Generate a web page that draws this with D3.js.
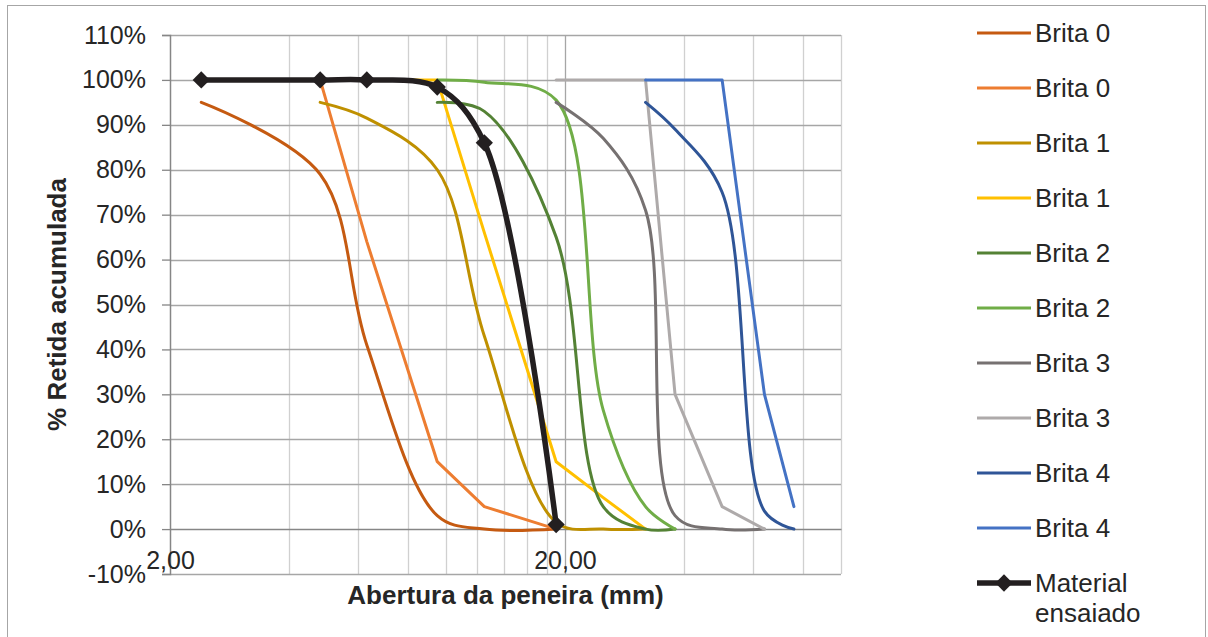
<!DOCTYPE html>
<html>
<head>
<meta charset="utf-8">
<script src="https://cdn.jsdelivr.net/npm/d3@7"></script>
<style>
  html, body { margin: 0; padding: 0; background: #ffffff; }
  svg { display: block; font-family: "Liberation Sans", Arial, sans-serif; }
</style>
</head>
<body>
<svg id="chart" width="1208" height="637"></svg>
<script>
// Sieve openings (mm)
const sieves = [2.4, 4.8, 6.3, 9.5, 12.5, 19, 25, 32, 38, 50, 64, 76];

// Cumulative retained (%) for each sieve; null = not tested
const brita0a  = [95, 79, 41, 3, 0, 0, null, null, null, null, null, null];
const brita0b  = [100, 100, 64, 15, 5, 0, null, null, null, null, null, null];
const brita1a  = [null, 95, 91.5, 80, 43, 1.5, 0, 0, null, null, null, null];
const brita1b  = [null, 100, 100, 100, 66, 15, 7, 0, null, null, null, null];
const brita2a  = [null, null, null, 95, 93, 65, 5, 0, 0, null, null, null];
const brita2b  = [null, null, null, 100, 99.5, 95.5, 26.5, 5, 0, null, null, null];
const brita3a  = [null, null, null, null, null, 95, 87, 71, 3, 0, 0, null];
const brita3b  = [null, null, null, null, null, 100, 100, 100, 30, 5, 0, null];
const brita4a  = [null, null, null, null, null, null, null, 95, 89, 75, 4, 0];
const brita4b  = [null, null, null, null, null, null, null, 100, 100, 100, 30, 5];
const material = [100, 100, 100, 98.4, 86, 1, null, null, null, null, null, null];

const seriesNames = ["Brita 0", "Brita 0", "Brita 1", "Brita 1", "Brita 2", "Brita 2",
                     "Brita 3", "Brita 3", "Brita 4", "Brita 4", "Material ensaiado"];

// Axis ticks
const yTicks = [-10, 0, 10, 20, 30, 40, 50, 60, 70, 80, 90, 100, 110];
const xMajorTicks = [2, 20];
const xMinorTicks = [4, 6, 8, 10, 12, 14, 16, 18, 40, 60, 80, 100];

const series = [
  { name: seriesNames[0], values: brita0a, color: "#c55a11", smooth: true },
  { name: seriesNames[1], values: brita0b, color: "#ed7d31", smooth: false },
  { name: seriesNames[2], values: brita1a, color: "#bf9000", smooth: true },
  { name: seriesNames[3], values: brita1b, color: "#ffc000", smooth: false },
  { name: seriesNames[4], values: brita2a, color: "#548235", smooth: true },
  { name: seriesNames[5], values: brita2b, color: "#70ad47", smooth: true },
  { name: seriesNames[6], values: brita3a, color: "#767171", smooth: true },
  { name: seriesNames[7], values: brita3b, color: "#aeaaaa", smooth: false },
  { name: seriesNames[8], values: brita4a, color: "#2f5597", smooth: true },
  { name: seriesNames[9], values: brita4b, color: "#4472c4", smooth: false },
  { name: seriesNames[10], values: material, color: "#231f20", smooth: true, marker: true }
];

const svg = d3.select("#chart");
const textColor = "#262626";

// Chart frame
svg.append("rect")
  .attr("x", 7.5).attr("y", 5.5).attr("width", 1198).attr("height", 640)
  .attr("fill", "#ffffff").attr("stroke", "#a6a6a6").attr("stroke-width", 1);

const plot = { left: 170, right: 841, top: 35, bottom: 574 };

const x = d3.scaleLog().domain([2, 100]).range([plot.left, plot.right]);
const y = d3.scaleLinear().domain([-10, 110]).range([plot.bottom, plot.top]);

// Vertical gridlines
const g = svg.append("g");
g.selectAll("line.vminor").data(xMinorTicks).join("line")
  .attr("x1", d => Math.round(x(d)) + 0.5).attr("x2", d => Math.round(x(d)) + 0.5)
  .attr("y1", plot.top).attr("y2", plot.bottom)
  .attr("stroke", "#d0d0d0").attr("stroke-width", 1.3);
g.selectAll("line.vmajor").data(xMajorTicks.slice(1)).join("line")
  .attr("x1", d => Math.round(x(d)) + 0.5).attr("x2", d => Math.round(x(d)) + 0.5)
  .attr("y1", plot.top).attr("y2", plot.bottom)
  .attr("stroke", "#a6a6a6").attr("stroke-width", 1.3);

// Horizontal gridlines
g.selectAll("line.h").data(yTicks.filter(d => d !== 0)).join("line")
  .attr("x1", plot.left).attr("x2", plot.right)
  .attr("y1", d => Math.round(y(d)) + 0.5).attr("y2", d => Math.round(y(d)) + 0.5)
  .attr("stroke", "#a6a6a6").attr("stroke-width", 1.3);

// Y axis
const yAxis = svg.append("g")
  .attr("transform", `translate(${plot.left},0)`)
  .call(d3.axisLeft(y).tickValues(yTicks).tickSize(8).tickPadding(16)
    .tickFormat(d => d + "%"));
yAxis.select(".domain").attr("stroke", "#868686").attr("stroke-width", 1.5);
yAxis.selectAll(".tick line").attr("stroke", "#868686").attr("stroke-width", 1.3);
yAxis.selectAll(".tick text")
  .attr("fill", textColor).attr("font-size", 25)
  .attr("font-family", "'Liberation Sans', Arial, sans-serif");

// X axis sitting on the 0% line
const xAxis = svg.append("g")
  .attr("transform", `translate(0,${y(0)})`)
  .call(d3.axisBottom(x).tickValues(xMajorTicks).tickSize(0).tickPadding(22)
    .tickFormat(d => d3.format(".2f")(d).replace(".", ",")));
xAxis.select(".domain").attr("stroke", "#868686").attr("stroke-width", 1.5);
xAxis.selectAll(".tick text")
  .attr("fill", textColor).attr("font-size", 25)
  .attr("font-family", "'Liberation Sans', Arial, sans-serif");

// Axis titles
svg.append("text")
  .attr("x", (plot.left + plot.right) / 2).attr("y", 604)
  .attr("text-anchor", "middle").attr("font-weight", "bold").attr("font-size", 26)
  .attr("fill", textColor)
  .text("Abertura da peneira (mm)");
svg.append("text")
  .attr("transform", `translate(66,${(plot.top + plot.bottom) / 2}) rotate(-90)`)
  .attr("text-anchor", "middle").attr("font-weight", "bold").attr("font-size", 26)
  .attr("fill", textColor)
  .text("% Retida acumulada");

// Series lines
svg.append("clipPath").attr("id", "plotClip")
  .append("rect").attr("x", plot.left).attr("y", plot.top)
  .attr("width", plot.right - plot.left).attr("height", plot.bottom - plot.top);

const lines = svg.append("g").attr("clip-path", "url(#plotClip)");

series.forEach(s => {
  const pts = sieves.map((v, i) => [v, s.values[i]]).filter(p => p[1] !== null);
  const line = d3.line()
    .x(p => x(p[0])).y(p => y(p[1]))
    .curve(s.smooth ? d3.curveCatmullRom.alpha(0.5) : d3.curveLinear);
  lines.append("path")
    .attr("d", line(pts))
    .attr("fill", "none")
    .attr("stroke", s.color)
    .attr("stroke-width", s.marker ? 5.5 : 3)
    .attr("stroke-linejoin", "round")
    .attr("stroke-linecap", "round");
  if (s.marker) {
    svg.append("g").selectAll("path").data(pts).join("path")
      .attr("transform", p => `translate(${x(p[0])},${y(p[1])})`)
      .attr("d", d3.symbol(d3.symbolDiamond2, 190))
      .attr("fill", s.color);
  }
});

// Legend
const legend = svg.append("g");
const legendRow = 55;
series.forEach((s, i) => {
  const cy = 33 + i * legendRow;
  const row = legend.append("g");
  row.append("line")
    .attr("x1", 977).attr("x2", 1031).attr("y1", cy).attr("y2", cy)
    .attr("stroke", s.color).attr("stroke-width", s.marker ? 5.5 : 3);
  if (s.marker) {
    row.append("path")
      .attr("transform", `translate(1004,${cy})`)
      .attr("d", d3.symbol(d3.symbolDiamond2, 190))
      .attr("fill", s.color);
    const words = s.name.split(" ");
    row.append("text")
      .attr("x", 1035).attr("y", cy).attr("dy", "0.35em")
      .attr("font-size", 26).attr("fill", textColor).text(words[0]);
    row.append("text")
      .attr("x", 1035).attr("y", cy + 30).attr("dy", "0.35em")
      .attr("font-size", 26).attr("fill", textColor).text(words[1]);
  } else {
    row.append("text")
      .attr("x", 1035).attr("y", cy).attr("dy", "0.35em")
      .attr("font-size", 26).attr("fill", textColor).text(s.name);
  }
});
</script>
</body>
</html>
